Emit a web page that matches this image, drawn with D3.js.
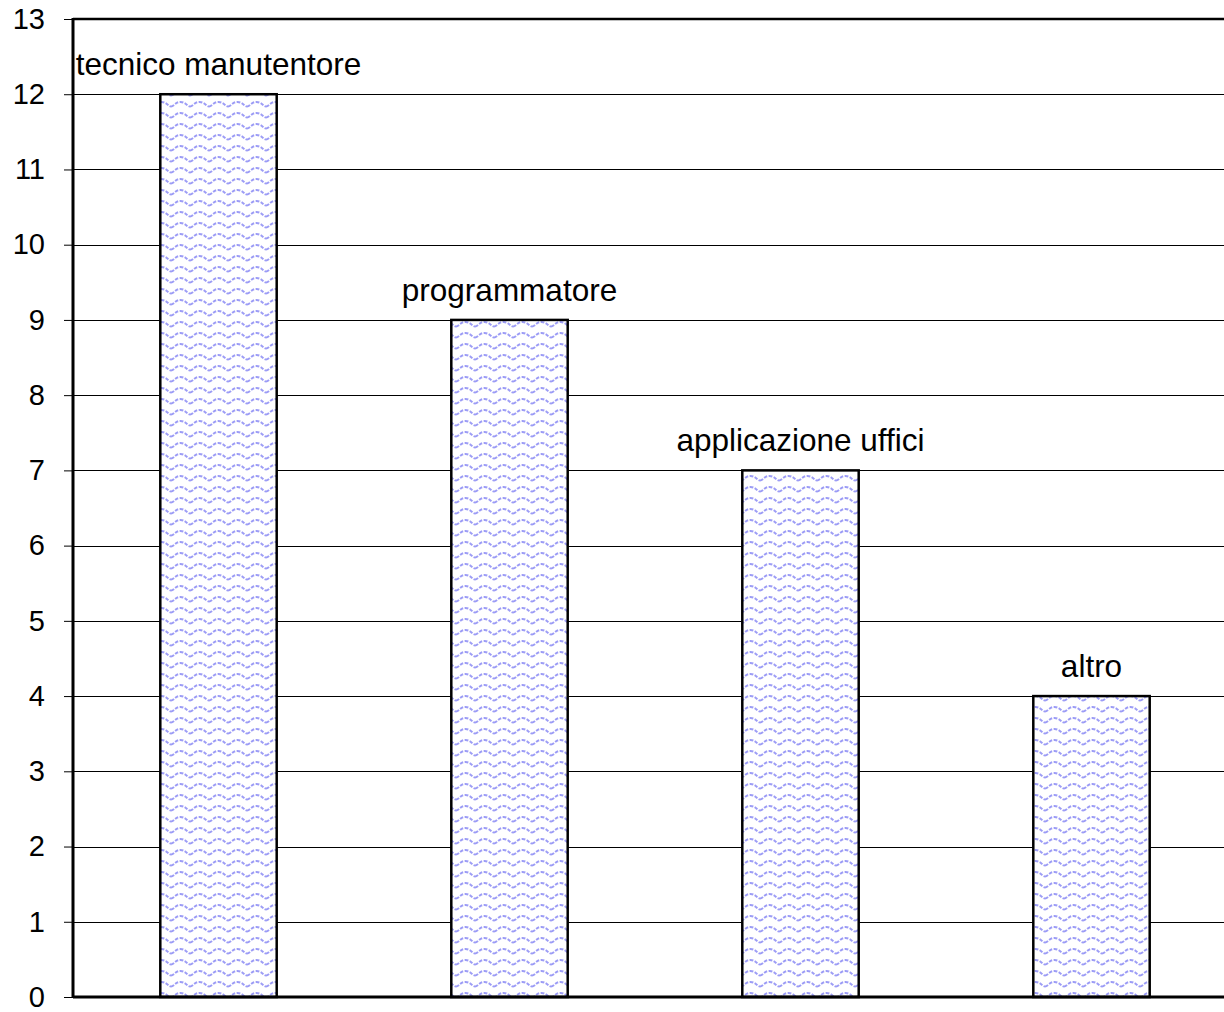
<!DOCTYPE html>
<html>
<head>
<meta charset="utf-8">
<script src="https://cdn.jsdelivr.net/npm/d3@7"></script>
<style>
  body { margin: 0; background: #fff; }
  text { font-family: "Liberation Sans", Arial, sans-serif; fill: #000; }
</style>
</head>
<body>
<div id="chart"></div>
<script>
// data
var categories = ["tecnico manutentore", "programmatore", "applicazione uffici", "altro"];
var values = [12, 9, 7, 4];
var yTicks = d3.range(0, 14);

var W = 1224, H = 1012;
var plotLeft = 73, plotTop = 19, plotBottom = 997;
var bandW = 291;

var svg = d3.select("#chart").append("svg")
  .attr("width", W)
  .attr("height", H);

// wavy fill like the old office pattern
var defs = svg.append("defs");
var pat = defs.append("pattern")
  .attr("id", "wave")
  .attr("patternUnits", "userSpaceOnUse")
  .attr("width", 19)
  .attr("height", 11);
pat.append("rect").attr("width", 19).attr("height", 11).attr("fill", "#fff");
pat.append("path")
  .attr("d", "M0,7.5 C3,7.5 4,3 9.5,3 C15,3 16,7.5 19,7.5")
  .attr("fill", "none")
  .attr("stroke", "#9c9cf6")
  .attr("stroke-width", 2)
  .attr("stroke-dasharray", "3.5,1.5");

var x = d3.scaleBand()
  .domain(categories)
  .range([plotLeft, plotLeft + bandW * categories.length])
  .paddingInner(0.6)
  .paddingOuter(0.3);

var y = d3.scaleLinear()
  .domain([0, 13])
  .range([plotBottom, plotTop]);

// gridlines
svg.append("g")
  .selectAll("line")
  .data(yTicks.filter(function(d){ return d > 0 && d < 13; }))
  .enter()
  .append("line")
  .attr("x1", plotLeft)
  .attr("x2", W)
  .attr("y1", function(d){ return Math.round(y(d)) + 0.5; })
  .attr("y2", function(d){ return Math.round(y(d)) + 0.5; })
  .style("stroke", "#000")
  .style("stroke-width", 1);

// top border of the plot area
svg.append("line")
  .attr("x1", plotLeft).attr("x2", W)
  .attr("y1", y(13)).attr("y2", y(13))
  .style("stroke", "#000").style("stroke-width", 2.5);

// y axis
var yAxis = d3.axisLeft(y)
  .tickValues(yTicks)
  .tickSize(9)
  .tickPadding(19)
  .tickFormat(d3.format("d"));

var ag = svg.append("g")
  .attr("transform", "translate(" + plotLeft + ",0)")
  .call(yAxis);
ag.select(".domain").remove();
ag.selectAll(".tick line").style("stroke", "#000").style("stroke-width", 1);
ag.selectAll(".tick text")
  .style("font-size", "29px")
  .style("font-family", "Liberation Sans, Arial, sans-serif");

svg.append("line")
  .attr("x1", plotLeft).attr("x2", plotLeft)
  .attr("y1", plotTop - 1).attr("y2", plotBottom + 1)
  .style("stroke", "#000").style("stroke-width", 3);

// bars
svg.append("g")
  .selectAll("rect")
  .data(values)
  .enter()
  .append("rect")
  .attr("x", function(d, i){ return x(categories[i]); })
  .attr("width", x.bandwidth())
  .attr("y", function(d){ return y(d); })
  .attr("height", function(d){ return y(0) - y(d); })
  .attr("fill", "url(#wave)")
  .style("stroke", "#000")
  .style("stroke-width", 2.5);

// x axis line
svg.append("line")
  .attr("x1", plotLeft).attr("x2", W)
  .attr("y1", plotBottom).attr("y2", plotBottom)
  .style("stroke", "#000").style("stroke-width", 3);

// labels above bars
svg.append("g")
  .selectAll("text")
  .data(values)
  .enter()
  .append("text")
  .attr("x", function(d, i){ return x(categories[i]) + x.bandwidth() / 2; })
  .attr("y", function(d){ return y(d) - 19; })
  .attr("text-anchor", "middle")
  .style("font-size", "31.5px")
  .text(function(d, i){ return categories[i]; });
</script>
</body>
</html>
